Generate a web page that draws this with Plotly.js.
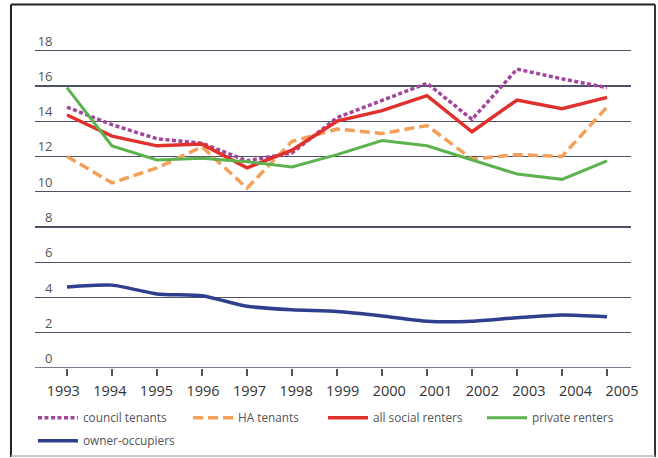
<!DOCTYPE html>
<html>
<head>
<meta charset="utf-8">
<script src="https://cdn.plot.ly/plotly-3.0.1.min.js"></script>
<style>html,body{margin:0;padding:0;background:#fff;}#chart{width:658px;height:458px;}</style>
</head>
<body>
<div id="chart"></div>
<script>
var years = [1993,1994,1995,1996,1997,1998,1999,2000,2001,2002,2003,2004,2005];
var yearLabels = ['1993','1994','1995','1996','1997','1998','1999','2000','2001','2002','2003','2004','2005'];
var yTicks = [0,2,4,6,8,10,12,14,16,18];
var councilTenants = [14.8,13.8,13.0,12.75,11.75,12.2,14.2,15.2,16.15,14.1,16.95,16.4,15.9];
var haTenants = [12.0,10.5,11.35,12.55,10.2,12.85,13.55,13.3,13.75,11.85,12.1,12.0,14.8];
var allSocialRenters = [14.35,13.15,12.6,12.7,11.35,12.35,14.0,14.6,15.45,13.4,15.2,14.7,15.35];
var privateRenters = [15.9,12.6,11.8,11.9,11.7,11.4,12.1,12.9,12.6,11.8,11.0,10.7,11.75];
var ownerOccupiers = [4.6,4.7,4.2,4.1,3.5,3.3,3.2,2.95,2.65,2.65,2.85,3.0,2.9];

var FONT = '"Open Sans", "DejaVu Sans", sans-serif';

function tr(name, y, color, width, dash, legend, shape) {
  return {
    type: 'scatter', mode: 'lines', name: name, x: years, y: y,
    line: {color: color, width: width, dash: dash, shape: shape || 'linear', smoothing: 0.6},
    legend: legend, hoverinfo: 'skip'
  };
}

var data = [
  tr('council tenants', councilTenants, '#a3459c', 3.5, '4px,2.5px', 'legend'),
  tr('HA tenants', haTenants, '#f2a05a', 3.5, '10px,5px', 'legend2'),
  tr('all social renters', allSocialRenters, '#e0312c', 3.5, 'solid', 'legend3'),
  tr('private renters', privateRenters, '#5cb24d', 3, 'solid', 'legend4'),
  tr('owner-occupiers', ownerOccupiers, '#2f3f8e', 3.5, 'solid', 'legend5', 'spline'),
  {type:'scatter', mode:'lines', x:[years[0]], y:[0], xaxis:'x2', yaxis:'y2', showlegend:false, hoverinfo:'skip', line:{color:'rgba(0,0,0,0)'}}
];

var legendFont = {family: FONT, size: 11.8, color: '#555'};
function leg(x, y) {
  return {orientation: 'h', x: x, xanchor: 'left', y: y, yanchor: 'top',
          font: legendFont, itemwidth: 40, bgcolor: 'rgba(0,0,0,0)'};
}

var layout = {
  width: 658, height: 458,
  margin: {l: 35, r: 27, t: 33.4, b: 90, pad: 0, autoexpand: false},
  paper_bgcolor: '#fff', plot_bgcolor: '#fff',
  font: {family: FONT, color: '#555'},
  showlegend: true,
  xaxis: {
    range: [1992.289, 2005.533], tickvals: years, showticklabels: false,
    ticks: 'outside', ticklen: 7, tickwidth: 1.5, tickcolor: '#555',
    showgrid: false, zeroline: false, showline: false, fixedrange: true
  },
  xaxis2: {
    overlaying: 'x', anchor: 'y', side: 'bottom',
    range: [1992.392, 2005.193], tickvals: years, ticktext: yearLabels,
    ticks: '', showgrid: false, zeroline: false, showline: false,
    ticklabelstandoff: 12,
    tickfont: {family: FONT, size: 14.5, color: '#333'}, fixedrange: true
  },
  yaxis: {
    range: [0, 19], tickvals: yTicks, showticklabels: false,
    showgrid: true, gridcolor: '#4d5166', gridwidth: 1.3,
    zeroline: false, showline: false, ticks: '', fixedrange: true
  },
  yaxis2: {
    overlaying: 'y', anchor: 'free', position: 0.0294, side: 'left',
    range: [-0.54, 18.46], tickvals: yTicks, ticktext: yTicks.map(String),
    showgrid: false, zeroline: false, showline: false, ticks: '',
    tickfont: {family: FONT, size: 13, color: '#555'}, fixedrange: true
  },
  legend: leg(-0.0034, -0.105),
  legend2: leg(0.2567, -0.105),
  legend3: leg(0.4832, -0.105),
  legend4: leg(0.7500, -0.105),
  legend5: leg(-0.0034, -0.174),
  shapes: [
    {type:'line', xref:'paper', yref:'paper', x0:-0.0403, x1:-0.0403, y0:-0.266, y1:1.0849, line:{color:'#222', width:2}},
    {type:'line', xref:'paper', yref:'paper', x0:-0.0403, x1:1.0403, y0:1.0849, y1:1.0849, line:{color:'#222', width:2}},
    {type:'line', xref:'paper', yref:'paper', x0:1.0403, x1:1.0403, y0:-0.266, y1:1.0849, line:{color:'#333', width:2}},
    {type:'line', xref:'paper', yref:'paper', x0:-0.0403, x1:1.0403, y0:-0.263, y1:-0.263, line:{color:'#bbb', width:1.5}},
    {type:'line', xref:'paper', yref:'y', x0:0, x1:1, y0:0, y1:0, line:{color:'#4d5166', width:1.5}}
  ]
};

Plotly.newPlot('chart', data, layout, {staticPlot: true, displayModeBar: false});
</script>
</body>
</html>
